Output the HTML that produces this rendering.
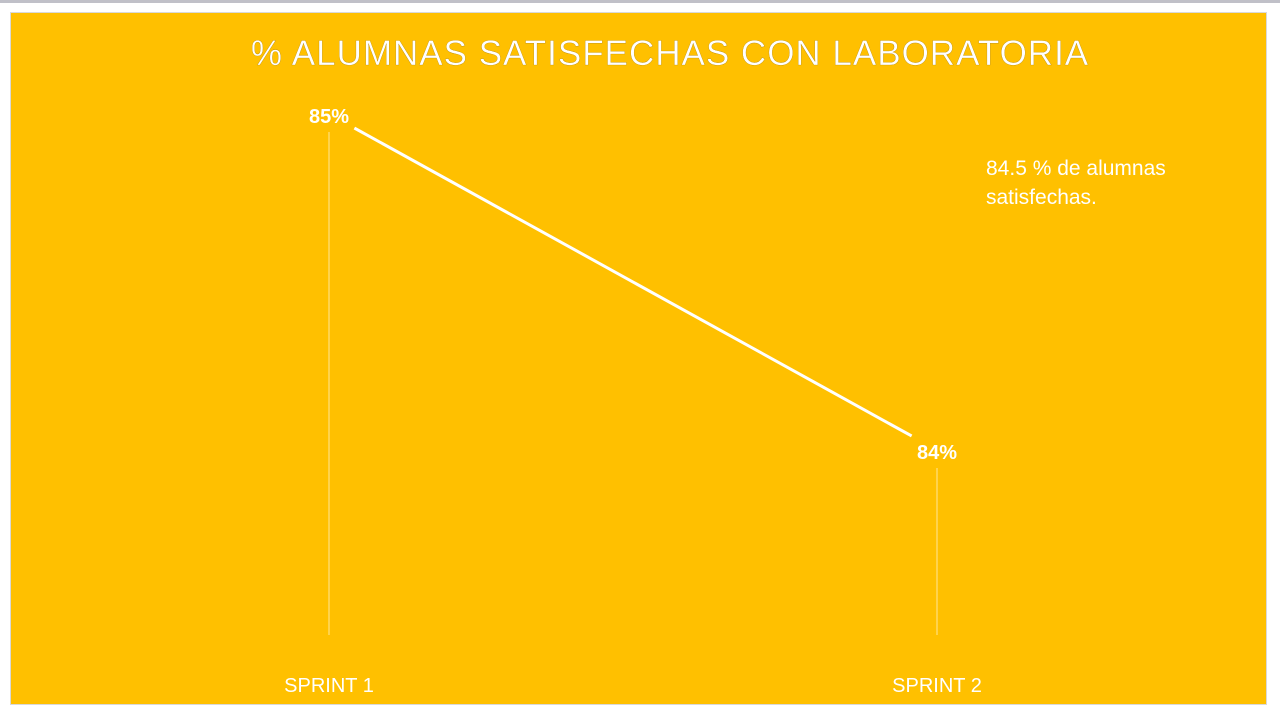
<!DOCTYPE html>
<html><head><meta charset="utf-8"><style>
body{margin:0;width:1280px;height:720px;background:#fff;overflow:hidden;font-family:"Liberation Sans",sans-serif}
#topbar{position:absolute;left:0;top:0;width:1280px;height:3px;background:#c0c0c8}
#panel{position:absolute;left:10px;top:12px;width:1257px;height:693px;background:#FFC000;border:1px solid #d9d9d9;box-sizing:border-box}
svg{position:absolute;left:0;top:0}
</style></head><body>
<div id="topbar"></div>
<div id="panel"></div>
<svg id="chart" width="1280" height="720">
<text x="670" y="65" text-anchor="middle" font-size="35" letter-spacing="1" fill="#fff" stroke="#b08000" stroke-width="0.3" font-family="Liberation Sans, sans-serif">% ALUMNAS SATISFECHAS CON LABORATORIA</text>
<text x="986" y="175" font-size="21" fill="#fff">84.5 %  de alumnas</text>
<text x="986" y="204" font-size="21" fill="#fff">satisfechas.</text>
</svg>
<script>
const categories=["SPRINT 1","SPRINT 2"];
const values=[85,84];
const valueLabels=["85%","84%"];
const svg=document.getElementById('chart');
const NS='http://www.w3.org/2000/svg';
const xPos=i=>329+i*608;
const y=v=>114+(85-v)*336;
const baseY=635;
function mk(t,a){const e=document.createElementNS(NS,t);for(const k in a)e.setAttribute(k,a[k]);svg.appendChild(e);return e;}
for(let i=0;i<values.length-1;i++){
  const x1=xPos(i),y1=y(values[i]),x2=xPos(i+1),y2=y(values[i+1]);
  const dx=x2-x1,dy=y2-y1,L=Math.hypot(dx,dy),g=29;
  const l=mk('line',{x1:x1+dx/L*g,y1:y1+dy/L*g,x2:x2-dx/L*g,y2:y2-dy/L*g,stroke:'#fff','stroke-width':3});
  
  
}
values.forEach((v,i)=>{
  const x=xPos(i),py=y(v);
  const d=mk('line',{x1:x,y1:py+18,x2:x,y2:baseY,stroke:'#fff','stroke-width':1,'stroke-opacity':0.6});
  
  
  const t=mk('text',{x:x,y:py+9,'text-anchor':'middle','font-size':20,'font-weight':'bold',fill:'#fff'});
  t.textContent=valueLabels[i];
  
  
  const c=mk('text',{x:x,y:692,'text-anchor':'middle','font-size':20,fill:'#fff'});
  c.textContent=categories[i];
  
  
});
</script>
</body></html>
